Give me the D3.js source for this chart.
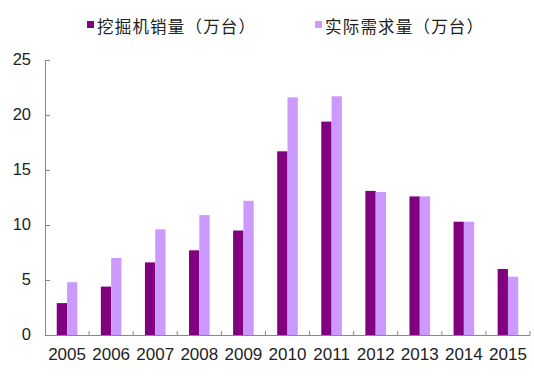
<!DOCTYPE html>
<html><head><meta charset="utf-8">
<script src="https://cdn.jsdelivr.net/npm/d3@7"></script>
<style>body{margin:0;background:#fff}svg{display:block}</style>
</head><body>
<script>
const years = ["2005","2006","2007","2008","2009","2010","2011","2012","2013","2014","2015"];
const sales = [2.9,4.4,6.6,7.7,9.5,16.7,19.4,13.1,12.6,10.3,6.0];
const demand = [4.8,7.0,9.6,10.9,12.2,21.6,21.7,13.0,12.6,10.3,5.3];
const seriesNames = ["挖掘机销量（万台）","实际需求量（万台）"];
const colors = ["#800080","#cc99ff"];
const yTicks = [0,5,10,15,20,25];

const W=534,H=379;
const svg=d3.select("body").append("svg").attr("width",W).attr("height",H);
const x=d3.scaleBand().domain(years).range([45,530]).paddingInner(0).paddingOuter(0);
const y=d3.scaleLinear().domain([0,25]).range([335,60]);
const bw=10.3;

const g=svg.append("g");
[sales,demand].forEach((arr,si)=>{
  g.selectAll(".b"+si).data(arr).enter().append("rect")
   .attr("x",(d,i)=>x(years[i])+x.bandwidth()/2-bw+si*bw)
   .attr("width",bw)
   .attr("y",d=>y(d)).attr("height",d=>y(0)-y(d))
   .attr("fill",colors[si]);
});

// y axis
const ya=svg.append("g").attr("transform","translate(45,0)")
 .call(d3.axisRight(y).tickValues(yTicks).tickSize(5).tickFormat(""));
ya.select(".domain").attr("stroke","#888").attr("d","M0.5,60V335.5");
ya.selectAll(".tick line").attr("stroke","#888");
svg.selectAll(".ylab").data(yTicks).enter().append("text")
 .attr("x",31).attr("y",d=>y(d)).attr("dy","0.33em").attr("text-anchor","end")
 .attr("font-family","Liberation Sans, Arial, sans-serif").attr("font-size",16.5).attr("fill","#222")
 .text(d=>d);

// x axis
const xa=svg.append("g").attr("transform","translate(0,335)")
 .call(d3.axisBottom(x).tickSize(0).tickFormat(""));
xa.select(".domain").attr("stroke","#888").attr("d","M45,0.5H530");
xa.selectAll(".tick line").remove();
const bounds=years.slice(1).map(yv=>x(yv)).concat([530]);
svg.selectAll(".xt").data(bounds).enter().append("line")
 .attr("x1",d=>d).attr("x2",d=>d).attr("y1",331).attr("y2",335.5).attr("stroke","#888");
svg.selectAll(".xlab").data(years).enter().append("text")
 .attr("x",d=>x(d)+x.bandwidth()/2).attr("y",360).attr("text-anchor","middle")
 .attr("font-family","Liberation Sans, Arial, sans-serif").attr("font-size",17).attr("fill","#222")
 .text(d=>d);

// legend
const lx=[87,315];
seriesNames.forEach((n,i)=>{
  svg.append("rect").attr("x",lx[i]).attr("y",21).attr("width",7).attr("height",7).attr("fill",colors[i]);
  svg.append("text").attr("x",lx[i]+10).attr("y",27).attr("dy","0.35em")
   .attr("font-family","Noto Sans CJK SC, sans-serif").attr("font-size",16.5).attr("fill","#222")
   .attr("textLength",158).attr("lengthAdjust","spacing").text(n);
});
</script>
</body></html>
